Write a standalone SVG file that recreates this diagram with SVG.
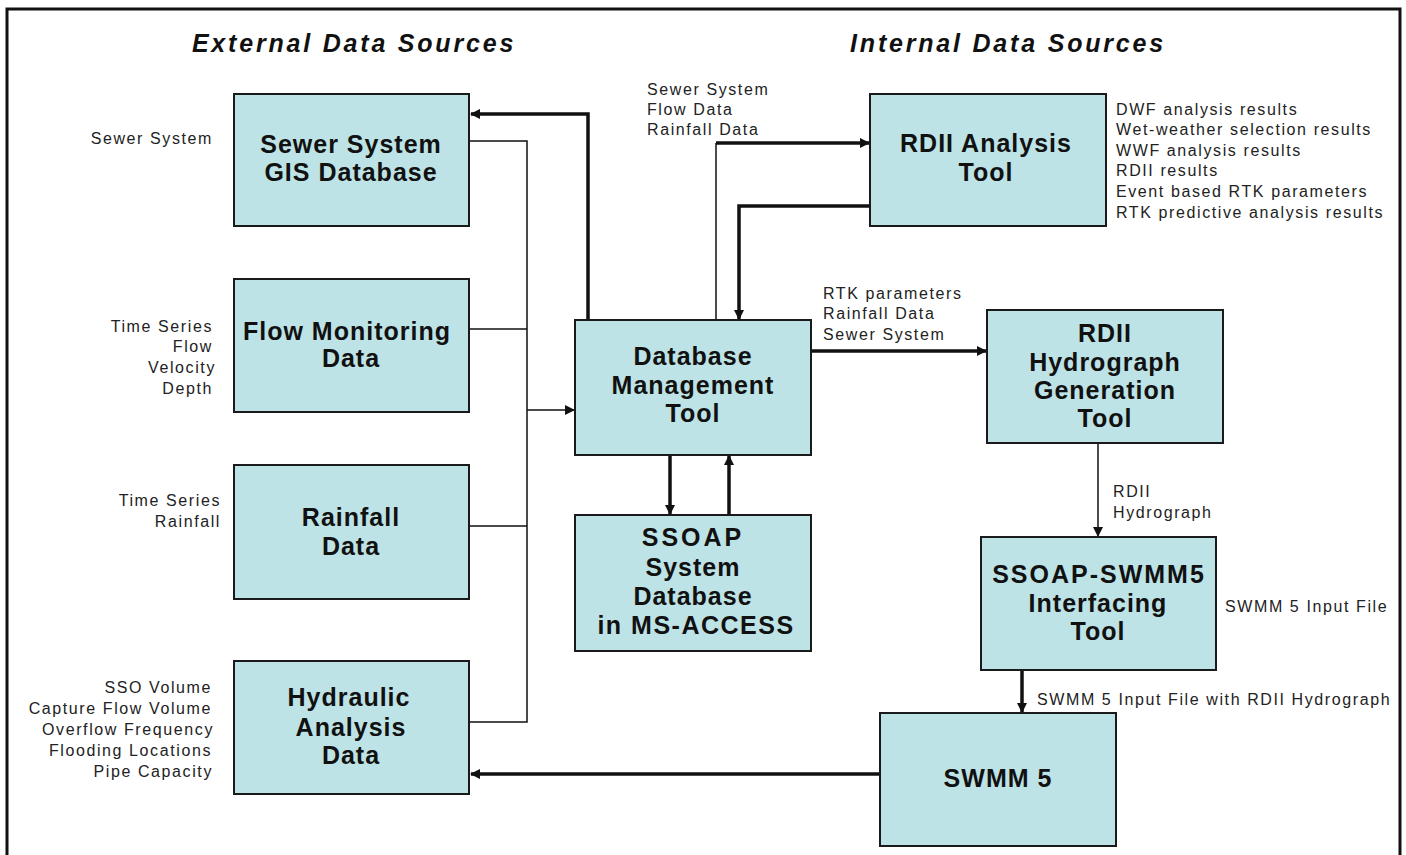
<svg xmlns="http://www.w3.org/2000/svg" width="1406" height="855" viewBox="0 0 1406 855">
<defs>
<style>
.box{fill:#bde3e6;stroke:#1a1a1a;stroke-width:2}
.bt{font-family:"Liberation Sans",Arial,sans-serif;font-weight:bold;font-size:25px;letter-spacing:1px;fill:#111;text-anchor:middle}
.lb{font-family:"Liberation Sans",Arial,sans-serif;font-size:16px;letter-spacing:1.6px;fill:#222}
.r{text-anchor:end}
.hd{font-family:"Liberation Sans",Arial,sans-serif;font-weight:bold;font-style:italic;font-size:25px;letter-spacing:2.8px;fill:#111;text-anchor:middle}
.thin{fill:none;stroke:#111;stroke-width:1.5}
.thick{fill:none;stroke:#111;stroke-width:3.5}
</style>
<marker id="ah" markerWidth="10" markerHeight="10" refX="9" refY="5" orient="auto" markerUnits="userSpaceOnUse">
<path d="M0,0 L10,5 L0,10 z" fill="#111"/>
</marker>
</defs>
<rect x="0" y="0" width="1406" height="855" fill="#fff"/>
<path d="M7,860 L7,9 L1400,9 L1400,860" fill="none" stroke="#111" stroke-width="3"/>
<text class="hd" x="354" y="52">External Data Sources</text>
<text class="hd" x="1008" y="52">Internal Data Sources</text>

<g id="connectors">
<path class="thick" d="M588,320 L588,114 L471,114" marker-end="url(#ah)"/>
<path class="thin" d="M469,141 L527,141 L527,722 L469,722"/>
<path class="thin" d="M469,329 L527,329"/>
<path class="thin" d="M469,526 L527,526"/>
<path class="thin" d="M527,410 L574,410" marker-end="url(#ah)"/>
<path class="thin" d="M716,320 L716,143"/>
<path class="thick" d="M716,143 L869,143" marker-end="url(#ah)"/>
<path class="thick" d="M870,206 L739,206 L739,319" marker-end="url(#ah)"/>
<path class="thick" d="M811,351 L986,351" marker-end="url(#ah)"/>
<path class="thick" d="M670,455 L670,514" marker-end="url(#ah)"/>
<path class="thick" d="M729,515 L729,456" marker-end="url(#ah)"/>
<path class="thin" d="M1098,443 L1098,536" marker-end="url(#ah)"/>
<path class="thick" d="M1022,670 L1022,712" marker-end="url(#ah)"/>
<path class="thick" d="M880,774 L471,774" marker-end="url(#ah)"/>
</g>

<g id="gis">
<rect class="box" x="234" y="94" width="235" height="132"/>
<text class="bt" x="351" y="153">Sewer System</text>
<text class="bt" x="351" y="181">GIS Database</text>
</g>
<g id="flow">
<rect class="box" x="234" y="279" width="235" height="133"/>
<text class="bt" x="347" y="340">Flow Monitoring</text>
<text class="bt" x="351" y="367">Data</text>
</g>
<g id="rainfall">
<rect class="box" x="234" y="465" width="235" height="134"/>
<text class="bt" x="351" y="526">Rainfall</text>
<text class="bt" x="351" y="555">Data</text>
</g>
<g id="hydraulic">
<rect class="box" x="234" y="661" width="235" height="133"/>
<text class="bt" x="349" y="706">Hydraulic</text>
<text class="bt" x="351" y="736">Analysis</text>
<text class="bt" x="351" y="764">Data</text>
</g>
<g id="dbmgmt">
<rect class="box" x="575" y="320" width="236" height="135"/>
<text class="bt" x="693" y="365">Database</text>
<text class="bt" x="693" y="394">Management</text>
<text class="bt" x="693" y="422">Tool</text>
</g>
<g id="ssoapdb">
<rect class="box" x="575" y="515" width="236" height="136"/>
<text class="bt" x="693" y="546" style="letter-spacing:3px">SSOAP</text>
<text class="bt" x="693" y="576">System</text>
<text class="bt" x="693" y="605">Database</text>
<text class="bt" x="696" y="634" style="letter-spacing:1.5px">in MS-ACCESS</text>
</g>
<g id="rdiianalysis">
<rect class="box" x="870" y="94" width="236" height="132"/>
<text class="bt" x="986" y="152">RDII Analysis</text>
<text class="bt" x="986" y="181">Tool</text>
</g>
<g id="rdiihydro">
<rect class="box" x="987" y="310" width="236" height="133"/>
<text class="bt" x="1105" y="342">RDII</text>
<text class="bt" x="1105" y="371">Hydrograph</text>
<text class="bt" x="1105" y="399">Generation</text>
<text class="bt" x="1105" y="427">Tool</text>
</g>
<g id="interfacing">
<rect class="box" x="981" y="537" width="235" height="133"/>
<text class="bt" x="1099" y="583" style="letter-spacing:2px">SSOAP-SWMM5</text>
<text class="bt" x="1098" y="612">Interfacing</text>
<text class="bt" x="1098" y="640">Tool</text>
</g>
<g id="swmm5">
<rect class="box" x="880" y="713" width="236" height="133"/>
<text class="bt" x="998" y="787">SWMM 5</text>
</g>

<g id="labels">
<text class="lb r" x="213" y="144">Sewer System</text>
<text class="lb r" x="213" y="332">Time Series</text>
<text class="lb r" x="213" y="352">Flow</text>
<text class="lb r" x="216" y="373">Velocity</text>
<text class="lb r" x="213" y="394">Depth</text>
<text class="lb r" x="221" y="506">Time Series</text>
<text class="lb r" x="221" y="527">Rainfall</text>
<text class="lb r" x="212" y="693">SSO Volume</text>
<text class="lb r" x="212" y="714">Capture Flow Volume</text>
<text class="lb r" x="214" y="735">Overflow Frequency</text>
<text class="lb r" x="212" y="756">Flooding Locations</text>
<text class="lb r" x="213" y="777">Pipe Capacity</text>
<text class="lb" x="647" y="95">Sewer System</text>
<text class="lb" x="647" y="115">Flow Data</text>
<text class="lb" x="647" y="135">Rainfall Data</text>
<text class="lb" x="1116" y="115">DWF analysis results</text>
<text class="lb" x="1116" y="135">Wet-weather selection results</text>
<text class="lb" x="1116" y="156">WWF analysis results</text>
<text class="lb" x="1116" y="176">RDII results</text>
<text class="lb" x="1116" y="197">Event based RTK parameters</text>
<text class="lb" x="1116" y="218">RTK predictive analysis results</text>
<text class="lb" x="823" y="299">RTK parameters</text>
<text class="lb" x="823" y="319">Rainfall Data</text>
<text class="lb" x="823" y="340">Sewer System</text>
<text class="lb" x="1113" y="497">RDII</text>
<text class="lb" x="1113" y="518">Hydrograph</text>
<text class="lb" x="1225" y="612">SWMM 5 Input File</text>
<text class="lb" x="1037" y="705">SWMM 5 Input File with RDII Hydrograph</text>
</g>
</svg>
